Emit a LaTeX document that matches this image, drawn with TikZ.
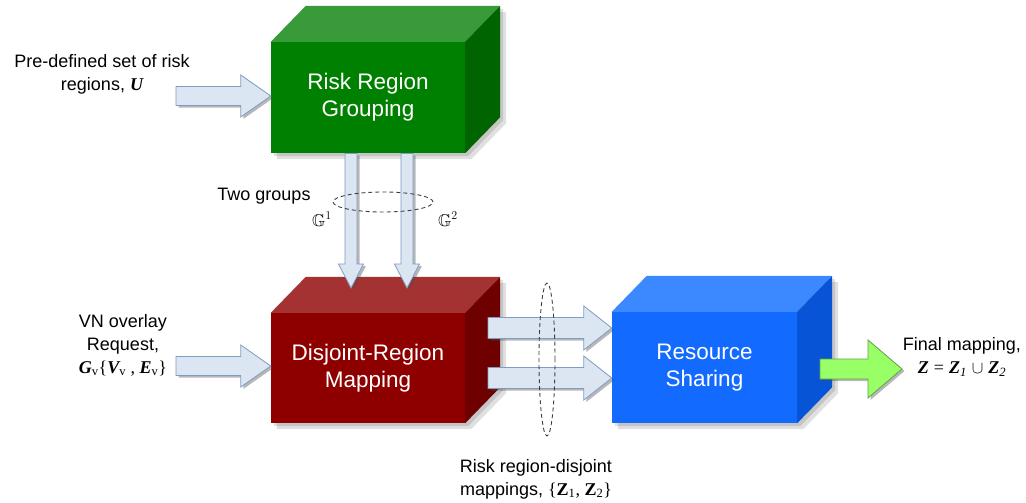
\documentclass[tikz,border=0pt]{standalone}
\usepackage{amssymb}
\usepackage{fontspec}
\setmainfont{Liberation Sans}
\newfontfamily\serf{Liberation Serif}
\usetikzlibrary{calc,shadows,backgrounds}
\newcommand{\bi}[1]{{\serf\bfseries\itshape #1}}
\newcommand{\bu}[1]{{\serf\bfseries #1}}
\newcommand{\sbv}[1]{\textsubscript{\serf #1}}
% cube: name, center, width, height, front, top, side, text
\newcommand{\cube}[8]{%
  \node[cubefront, fill=#5, minimum width=#3, minimum height=#4] (#1) at (#2) {#8};
  \fill[#6] (#1.north west) -- ++(35,-36) -- ([shift={(35,-36)}]#1.north east) -- (#1.north east) -- cycle;
  \fill[#7] (#1.north east) -- ++(35,-36) -- ([shift={(35,-36)}]#1.south east) -- (#1.south east) -- cycle;
  \begin{pgfonlayer}{background}
    \fill[black,opacity=0.12] ([shift={(6,6)}]#1.south west) -- ([shift={(6,6)}]#1.north west) -- ([shift={(41,-30)}]#1.north west) -- ([shift={(41,-30)}]#1.north east) -- ([shift={(41,-30)}]#1.south east) -- ([shift={(6,6)}]#1.south east) -- cycle;
    \fill[black,opacity=0.12] ([shift={(3,3)}]#1.south west) -- ([shift={(3,3)}]#1.north west) -- ([shift={(38,-33)}]#1.north west) -- ([shift={(38,-33)}]#1.north east) -- ([shift={(38,-33)}]#1.south east) -- ([shift={(3,3)}]#1.south east) -- cycle;
  \end{pgfonlayer}
}
% horizontal block arrow: style, start, tip, shaft half, head half, head length
\newcommand{\harrow}[6]{%
  \draw[#1] let \p1=(#2), \p2=(#3) in
    (\x1,\y1+#4) -- (\x2-#6,\y1+#4) -- (\x2-#6,\y1+#5) -- (\x2,\y1)
    -- (\x2-#6,\y1-#5) -- (\x2-#6,\y1-#4) -- (\x1,\y1-#4) -- cycle;}
% vertical (downward) block arrow
\newcommand{\varrow}[6]{%
  \draw[#1] let \p1=(#2), \p2=(#3) in
    (\x1-#4,\y1) -- (\x1-#4,\y2+#6) -- (\x1-#5,\y2+#6) -- (\x1,\y2)
    -- (\x1+#5,\y2+#6) -- (\x1+#4,\y2+#6) -- (\x1+#4,\y1) -- cycle;}
\definecolor{gfront}{RGB}{0,128,0}
\definecolor{gtop}{RGB}{56,154,56}
\definecolor{gside}{RGB}{0,100,0}
\definecolor{rfront}{RGB}{142,0,0}
\definecolor{rtop}{RGB}{165,50,50}
\definecolor{rside}{RGB}{110,0,0}
\definecolor{bfront}{RGB}{18,106,255}
\definecolor{btop}{RGB}{60,136,255}
\definecolor{bside}{RGB}{8,84,214}
\definecolor{afill}{RGB}{220,230,242}
\definecolor{aline}{RGB}{126,156,196}
\definecolor{gafill}{RGB}{153,255,102}
\definecolor{galine}{RGB}{100,160,70}
\begin{document}
\begin{tikzpicture}[x=1pt,y=-1pt,
  cubefront/.style={inner sep=0pt, text=white, align=center, font=\fontsize{22.5}{27}\selectfont},
  lbl/.style={align=center, font=\fontsize{18}{23}\selectfont, inner sep=0pt},
  blockarrow/.style={fill=afill, draw=aline, line width=0.8pt, line join=miter,
    drop shadow={shadow xshift=2.5pt, shadow yshift=-2pt, opacity=0.4, fill=black!70}},
  greenarrow/.style={fill=gafill, draw=galine, line width=0.8pt,
    drop shadow={shadow xshift=2.5pt, shadow yshift=-2pt, opacity=0.4, fill=black!70}},
  grp/.style={dash pattern=on 4pt off 3pt, line width=0.9pt, draw=black!75}]
\useasboundingbox (0,0) rectangle (1026,503);

% boxes
\cube{rrg}{368,97.5}{194pt}{111pt}{gfront}{gtop}{gside}{Risk Region\\Grouping}
\cube{drm}{368,368}{194pt}{110pt}{rfront}{rtop}{rside}{Disjoint-Region\\Mapping}
\cube{rsh}{704.5,367.5}{185pt}{111pt}{bfront}{btop}{bside}{Resource\\Sharing}

% input arrows
\coordinate (uin) at (176,96);
\harrow{blockarrow}{uin}{rrg.west |- uin}{9.5pt}{21pt}{30pt}
\coordinate (vin) at (176,366);
\harrow{blockarrow}{vin}{drm.west |- vin}{9.5pt}{21pt}{30pt}

% group arrows
\coordinate (g1s) at (351,153.5);
\coordinate (g1t) at (351,288);
\coordinate (g2s) at (407,153.5);
\coordinate (g2t) at (407,288);
\varrow{blockarrow}{g1s}{g1t}{6pt}{12.5pt}{24pt}
\varrow{blockarrow}{g2s}{g2t}{6pt}{12.5pt}{24pt}

% mapping arrows
\coordinate (m1s) at (488,328);
\coordinate (m2s) at (488,378);
\harrow{blockarrow}{m1s}{rsh.west |- m1s}{10.5pt}{22pt}{28pt}
\harrow{blockarrow}{m2s}{rsh.west |- m2s}{10.5pt}{22pt}{28pt}

% output arrow
\coordinate (zs) at (820,369);
\coordinate (zt) at (902,369);
\harrow{greenarrow}{zs}{zt}{10pt}{29pt}{34pt}

% dashed group ellipses
\draw[grp] (383,202) ellipse [x radius=50pt, y radius=10pt];
\draw[grp] (547,359.5) ellipse [x radius=8pt, y radius=76.5pt];

% labels
\node[lbl] (ulbl) at (102,74) {Pre-defined set of risk\\regions, \bi{U}};
\node[lbl] (tg) at (264,196) {Two groups};
\node[inner sep=0pt, font=\fontsize{17}{20}\selectfont] (gg1) at (322,219) {$\mathbb{G}^1$};
\node[inner sep=0pt, font=\fontsize{17}{20}\selectfont] (gg2) at (448,219) {$\mathbb{G}^2$};
\node[lbl] (vlbl) at (123,345) {VN overlay\\Request,\\\bi{G}\sbv{v}{\serf\{}\bi{V}\sbv{v}{\serf\ ,\ }\bi{E}\sbv{v}{\serf\}}};
\node[lbl] (mlbl) at (536,479) {Risk region-disjoint\\mappings, {\serf\{}\bu{Z}\sbv{1}{\serf, }\bu{Z}\sbv{2}{\serf\}}};
\node[lbl] (flbl) at (962,357) {Final mapping,\\\bi{Z} {\serf =} \bi{Z}\textsubscript{\serf\itshape 1} $\cup$ \bi{Z}\textsubscript{\serf\itshape 2}};
\end{tikzpicture}
\end{document}
